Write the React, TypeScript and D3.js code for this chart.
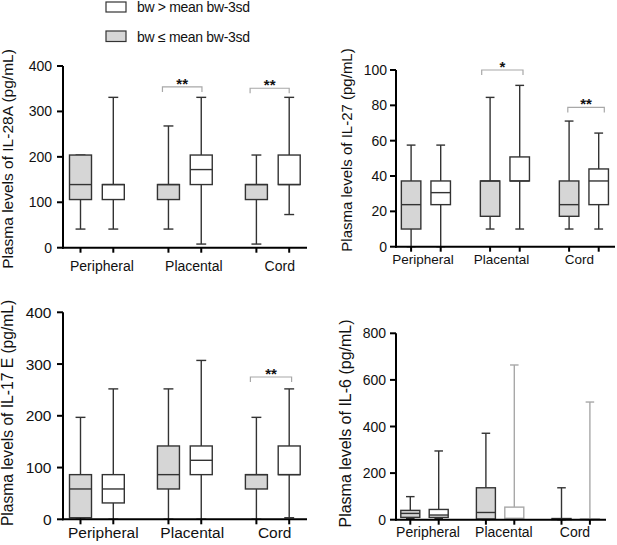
import React from "react";
import * as d3 from "d3";

// ---------- DATA ----------
const categories = ["Peripheral", "Placental", "Cord"];
const legendLabels = ["bw > mean bw-3sd", "bw \u2264 mean bw-3sd"];

// each entry: [min, q1, median, q3, max]
const il28aLow = [
  [41, 106, 139, 204, 204],
  [41, 106, 139, 139, 268],
  [8, 106, 139, 139, 204],
];
const il28aHigh = [
  [41, 106, 139, 139, 331],
  [8, 139, 172, 204, 331],
  [73, 139, 139, 204, 331],
];
const il27Low = [
  [0, 10, 23.8, 37.2, 57.5],
  [10, 17.2, 37.2, 37.2, 84.5],
  [10, 17.2, 23.8, 37.2, 71.1],
];
const il27High = [
  [0, 23.8, 30.6, 37.2, 57.5],
  [10, 37.2, 37.2, 50.8, 91.3],
  [10, 23.8, 37.2, 44, 64.3],
];
const il17eLow = [
  [0, 3, 58.6, 86.3, 197],
  [0, 58.6, 86.3, 141.7, 252],
  [0, 58.6, 86.3, 86.3, 197],
];
const il17eHigh = [
  [0, 31.6, 58.6, 86.3, 252],
  [0, 86.3, 114, 141.7, 307],
  [3, 86.3, 86.3, 141.7, 252],
];
const il6Low = [
  [5, 10, 27, 40, 99],
  [0, 3, 31, 137, 371],
  [0, 1, 3, 5, 137],
];
const il6High = [
  [5, 10, 20, 44, 295],
  [0, 3, 6, 54, 664],
  [0, 1, 2, 3, 505],
];

const ticks400 = [0, 100, 200, 300, 400];
const ticks100 = [0, 20, 40, 60, 80, 100];
const ticks800 = [0, 200, 400, 600, 800];

// significance: [category index, y value, label]
const sig28a = [[1, 354, "**"], [2, 351, "**"]];
const sig27 = [[1, 100, "*"], [2, 78.8, "**"]];
const sig17e = [[2, 275, "**"]];
const sig6: any[] = [];

// ---------- LAYOUT / STYLE ----------
const FONT = "'Liberation Sans', Arial, Helvetica, sans-serif";

type Panel = {
  title: string;
  low: number[][];
  high: number[][];
  ticks: number[];
  sig: any[];
  axisX0: number;
  axisX1: number;
  yTop: number;
  yBottom: number;
  groupRange: [number, number];
  pairOffset: number;
  boxW: number;
  tickFont: number;
  catFont: number;
  catBaseline: number;
  catShift: number[];
  titleX: number;
  titleY: number;
  titleFont: number;
  tickLabelGap: number;
  bracketDx: number[][];
  lightHigh?: number[];
};

const panels: Panel[] = [
  {
    title: "Plasma levels of IL-28A (pg/mL)",
    low: il28aLow,
    high: il28aHigh,
    ticks: ticks400,
    sig: sig28a,
    axisX0: 63,
    axisX1: 307,
    yTop: 66,
    yBottom: 247.7,
    groupRange: [96.9, 272.8],
    pairOffset: 16.4,
    boxW: 22,
    tickFont: 14,
    catFont: 14,
    catBaseline: 270.7,
    catShift: [5, 9, 7],
    titleX: 13,
    titleY: 159,
    titleFont: 15.5,
    tickLabelGap: 11,
    bracketDx: [[-6, 0.7], [-6.3, 0]],
  },
  {
    title: "Plasma levels of IL-27 (pg/mL)",
    low: il27Low,
    high: il27High,
    ticks: ticks100,
    sig: sig27,
    axisX0: 396,
    axisX1: 615,
    yTop: 70,
    yBottom: 246.7,
    groupRange: [425.9, 583.9],
    pairOffset: 14.8,
    boxW: 19.5,
    tickFont: 14,
    catFont: 13.5,
    catBaseline: 263.5,
    catShift: [-3, -3.5, -4.4],
    titleX: 352,
    titleY: 150,
    titleFont: 15,
    tickLabelGap: 9,
    bracketDx: [[-8.4, 3.3], [-1.3, 5.6]],
  },
  {
    title: "Plasma levels of IL-17 E (pg/mL)",
    low: il17eLow,
    high: il17eHigh,
    ticks: ticks400,
    sig: sig17e,
    axisX0: 63,
    axisX1: 307,
    yTop: 312.3,
    yBottom: 519.3,
    groupRange: [96.9, 272.8],
    pairOffset: 16.4,
    boxW: 22,
    tickFont: 15.5,
    catFont: 15.5,
    catBaseline: 538,
    catShift: [6.4, 7.4, 1.9],
    titleX: 12.5,
    titleY: 413,
    titleFont: 15.6,
    tickLabelGap: 11.5,
    bracketDx: [[-6, 2.4]],
  },
  {
    title: "Plasma levels of IL-6 (pg/mL)",
    low: il6Low,
    high: il6High,
    ticks: ticks800,
    sig: sig6,
    axisX0: 396,
    axisX1: 606,
    yTop: 333.3,
    yBottom: 519.7,
    groupRange: [424.5, 575.7],
    pairOffset: 14.2,
    boxW: 19,
    tickFont: 14,
    catFont: 14,
    catBaseline: 537,
    catShift: [3.5, 3.8, -0.7],
    titleX: 350.5,
    titleY: 423.5,
    titleFont: 16,
    tickLabelGap: 10,
    bracketDx: [],
    lightHigh: [1, 2],
  },
];

const DARK = "#333333";
const LIGHT = "#a8a8a8";
const GRAYFILL = "#d6d6d6";

function BoxPlot({ x, w, stats, y, fill, stroke }: any) {
  const [mn, q1, md, q3, mx] = stats;
  const cap = w * 0.45;
  const sw = 1.4;
  return (
    <g>
      <line x1={x} x2={x} y1={y(mx)} y2={y(q3)} stroke={stroke} strokeWidth={sw} />
      <line x1={x} x2={x} y1={y(q1)} y2={y(mn)} stroke={stroke} strokeWidth={sw} />
      <line x1={x - cap / 2} x2={x + cap / 2} y1={y(mx)} y2={y(mx)} stroke={stroke} strokeWidth={sw} />
      <line x1={x - cap / 2} x2={x + cap / 2} y1={y(mn)} y2={y(mn)} stroke={stroke} strokeWidth={sw} />
      <rect
        x={x - w / 2}
        y={y(q3)}
        width={w}
        height={Math.max(0.5, y(q1) - y(q3))}
        fill={fill}
        stroke={stroke}
        strokeWidth={sw}
      />
      <line x1={x - w / 2} x2={x + w / 2} y1={y(md)} y2={y(md)} stroke={stroke} strokeWidth={sw} />
    </g>
  );
}

function PanelChart({ p }: { p: Panel }) {
  const y = d3.scaleLinear().domain([0, p.ticks[p.ticks.length - 1]]).range([p.yBottom, p.yTop]);
  const xg = d3.scalePoint<string>().domain(categories).range(p.groupRange);
  const xs = d3.scalePoint<string>().domain(["low", "high"]).range([-p.pairOffset, p.pairOffset]);
  return (
    <g fontFamily={FONT}>
      {categories.map((c, i) => {
        const cx = xg(c)!;
        const lightH = p.lightHigh && p.lightHigh.includes(i);
        return (
          <g key={c}>
            <BoxPlot x={cx + xs("low")!} w={p.boxW} stats={p.low[i]} y={y} fill={GRAYFILL} stroke={DARK} />
            <BoxPlot
              x={cx + xs("high")!}
              w={p.boxW}
              stats={p.high[i]}
              y={y}
              fill="#ffffff"
              stroke={lightH ? LIGHT : DARK}
            />
          </g>
        );
      })}
      <line x1={p.axisX0} x2={p.axisX0} y1={p.yTop} y2={p.yBottom + 1} stroke="#000" strokeWidth={2} />
      <line x1={p.axisX0 - 1} x2={p.axisX1} y1={p.yBottom} y2={p.yBottom} stroke="#000" strokeWidth={2} />
      {p.ticks.map((t) => (
        <g key={t}>
          <line x1={p.axisX0 - 6} x2={p.axisX0} y1={y(t)} y2={y(t)} stroke="#000" strokeWidth={2} />
          <text
            x={p.axisX0 - p.tickLabelGap}
            y={y(t)}
            dy="0.36em"
            textAnchor="end"
            fontSize={p.tickFont}
            fill="#111"
          >
            {t}
          </text>
        </g>
      ))}
      {categories.map((c, i) => {
        const cx = xg(c)!;
        return (
          <g key={"x" + c}>
            {["low", "high"].map((s) => (
              <line
                key={s}
                x1={cx + xs(s)!}
                x2={cx + xs(s)!}
                y1={p.yBottom}
                y2={p.yBottom + 5}
                stroke="#000"
                strokeWidth={2}
              />
            ))}
            <text x={cx + p.catShift[i]} y={p.catBaseline} textAnchor="middle" fontSize={p.catFont} fill="#111">
              {c}
            </text>
          </g>
        );
      })}
      {p.sig.map((s: any, k: number) => {
        const [ci, v, label] = s;
        const cx = xg(categories[ci])!;
        const x1 = cx + xs("low")! + p.bracketDx[k][0];
        const x2 = cx + xs("high")! + p.bracketDx[k][1];
        const yy = y(v);
        return (
          <g key={"s" + k}>
            <path
              d={`M${x1},${yy + 5}V${yy}H${x2}V${yy + 5}`}
              fill="none"
              stroke={LIGHT}
              strokeWidth={1.2}
            />
            <text x={(x1 + x2) / 2} y={yy + 2} textAnchor="middle" fontSize={15} fontWeight="bold" fill="#111">
              {label}
            </text>
          </g>
        );
      })}
      <text
        transform={`translate(${p.titleX},${p.titleY}) rotate(-90)`}
        textAnchor="middle"
        fontSize={p.titleFont}
        fill="#111"
      >
        {p.title}
      </text>
    </g>
  );
}

export default function App() {
  return (
    <svg
      width={617}
      height={545}
      style={{ position: "absolute", left: 0, top: 0, background: "#fff" }}
    >
      <rect width={617} height={545} fill="#fff" />
      <g fontFamily={FONT}>
        <rect x={106} y={2} width={20} height={10} fill="#fff" stroke={DARK} strokeWidth={1.2} />
        <text x={137} y={12} fontSize={14} fill="#111" textLength={113} lengthAdjust="spacing">
          {legendLabels[0]}
        </text>
        <rect x={106} y={31} width={20} height={10.5} fill={GRAYFILL} stroke={DARK} strokeWidth={1.2} />
        <text x={137} y={41.5} fontSize={14} fill="#111" textLength={113} lengthAdjust="spacing">
          {legendLabels[1]}
        </text>
      </g>
      {panels.map((p, i) => (
        <PanelChart key={i} p={p} />
      ))}
    </svg>
  );
}
